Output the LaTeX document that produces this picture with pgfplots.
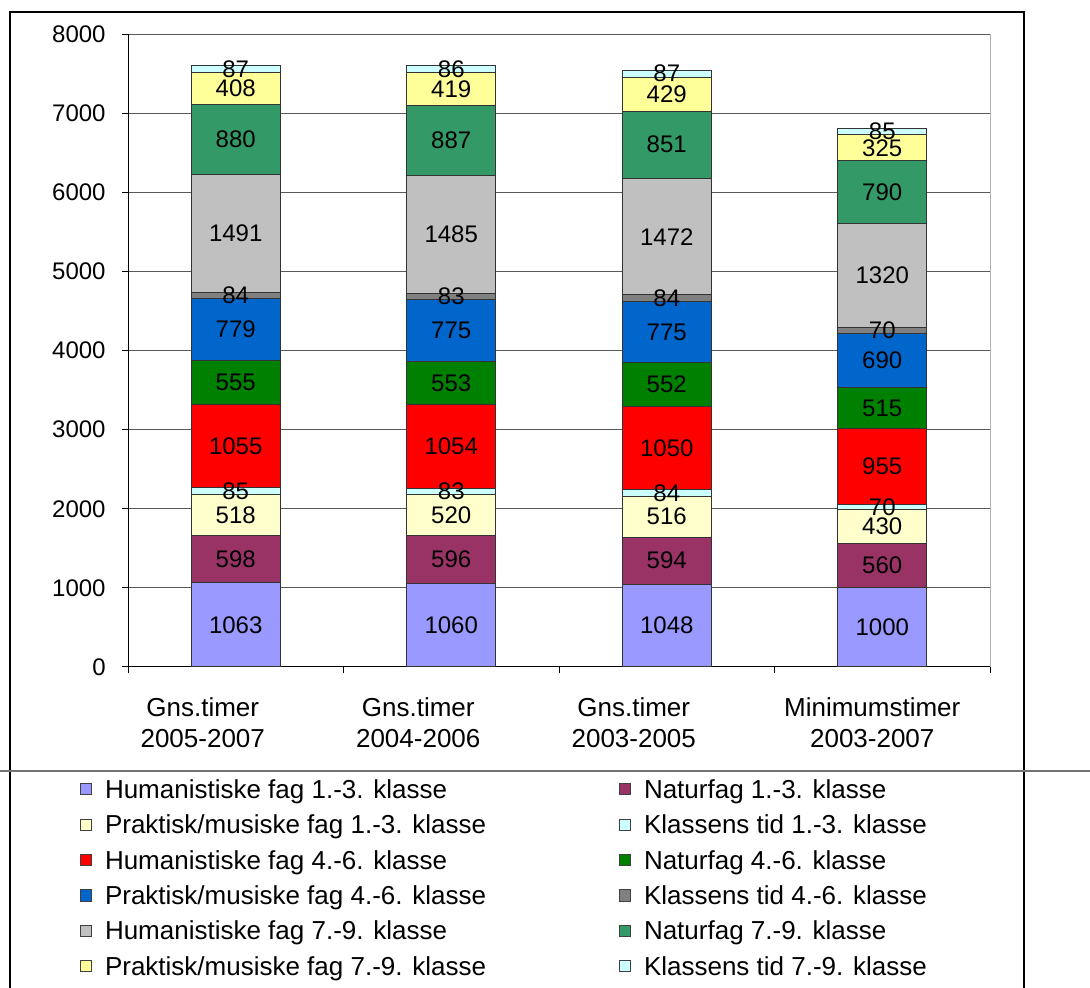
\documentclass[border=0pt]{standalone}
\usepackage{pgfplots}
\pgfplotsset{compat=1.18}
\usepackage{pgfplotstable}
\usepackage{fontspec}
\setmainfont{Liberation Sans}

\definecolor{c1}{HTML}{9999FF}
\definecolor{c2}{HTML}{993366}
\definecolor{c3}{HTML}{FFFFCC}
\definecolor{c4}{HTML}{CCFFFF}
\definecolor{c5}{HTML}{FF0000}
\definecolor{c6}{HTML}{008000}
\definecolor{c7}{HTML}{0066CC}
\definecolor{c8}{HTML}{808080}
\definecolor{c9}{HTML}{C0C0C0}
\definecolor{c10}{HTML}{339966}
\definecolor{c11}{HTML}{FFFF99}
\definecolor{c12}{HTML}{CCFFFF}

\pgfplotstableread{
x a b c d e f g h i j k l
0 1063 598 518 85 1055 555 779 84 1491 880 408 87
1 1060 596 520 83 1054 553 775 83 1485 887 419 86
2 1048 594 516 84 1050 552 775 84 1472 851 429 87
3 1000 560 430 70 955 515 690 70 1320 790 325 85
}\datatable

\pgfplotsset{
  seg/.style={
    fill=#1, draw=black!80, line width=0.5pt,
    point meta=explicit symbolic,
    nodes near coords={\pgfplotspointmeta},
    every node near coord/.append style={anchor=center,
      font=\fontsize{12}{14}\selectfont, text=black, inner sep=0pt},
  }
}
\newcommand{\la}[1]{\makebox[263.5pt][l]{\hspace*{6.5pt}#1}}
\newcommand{\lb}[1]{\makebox[200pt][l]{\hspace*{6.5pt}#1}}

\begin{document}
\begin{tikzpicture}
\useasboundingbox (0,0) rectangle (545pt,494pt);
\fill[white] (0,0) rectangle (545pt,494pt);
\begin{axis}[
  at={(64pt,160.5pt)}, anchor=south west,
  scale only axis, width=431pt, height=316.5pt,
  ybar stacked, bar width=44.5pt,
  xmin=-0.5, xmax=3.5, ymin=0, ymax=8000,
  ytick={0,1000,...,8000},
  xtick={-0.5,0.5,1.5,2.5,3.5}, xticklabels={,,,,,},
  extra x ticks={0,1,2,3},
  extra x tick labels={{Gns.timer\rule{33pt}{0pt}\\2005-2007\rule{33pt}{0pt}},
                       {Gns.timer\rule{33pt}{0pt}\\2004-2006\rule{33pt}{0pt}},
                       {Gns.timer\rule{33pt}{0pt}\\2003-2005\rule{33pt}{0pt}},
                       {Minimumstimer\rule{10pt}{0pt}\\2003-2007\rule{10pt}{0pt}}},
  extra x tick style={major tick length=0pt,
     xticklabel style={align=center, anchor=north, inner sep=0pt, yshift=-15pt,
       font=\fontsize{13}{15.75}\selectfont}},
  axis x line*=bottom, axis y line*=left,
  axis line style={black, line width=0.5pt, -},
  tick align=outside, major tick length=3pt,
  tick style={black, line width=0.5pt},
  ymajorgrids, grid style={black!65, line width=0.5pt},
  /pgf/number format/assume math mode=true,
  /pgf/number format/1000 sep={},
  yticklabel style={font=\fontsize{12}{14}\selectfont, anchor=east, inner sep=0pt, xshift=-8pt},
  legend columns=2,
  legend style={at={(axis description cs:-0.055684,-0.17583)}, anchor=north west,
    draw=none, fill=none, inner sep=0pt, outer sep=0pt,
    /tikz/column sep=0pt, /tikz/row sep=6.7pt,
    cells={anchor=west},
    nodes={inner sep=0pt, text height=10pt, text depth=1pt, font=\fontsize{13}{15}\selectfont}},
  legend image code/.code={\draw[#1, draw=black!75, line width=0.5pt] (0pt,-2.75pt) rectangle (5.5pt,2.75pt);},
]
\addplot[seg=c1] table[x=x, y=a, meta=a] {\datatable};
\addplot[seg=c2] table[x=x, y=b, meta=b] {\datatable};
\addplot[seg=c3] table[x=x, y=c, meta=c] {\datatable};
\addplot[seg=c4] table[x=x, y=d, meta=d] {\datatable};
\addplot[seg=c5] table[x=x, y=e, meta=e] {\datatable};
\addplot[seg=c6] table[x=x, y=f, meta=f] {\datatable};
\addplot[seg=c7] table[x=x, y=g, meta=g] {\datatable};
\addplot[seg=c8] table[x=x, y=h, meta=h] {\datatable};
\addplot[seg=c9] table[x=x, y=i, meta=i] {\datatable};
\addplot[seg=c10] table[x=x, y=j, meta=j] {\datatable};
\addplot[seg=c11] table[x=x, y=k, meta=k] {\datatable};
\addplot[seg=c12] table[x=x, y=l, meta=l] {\datatable};
\legend{\la{Humanistiske fag 1.-3. klasse}, \lb{Naturfag 1.-3. klasse},
        \la{Praktisk/musiske fag 1.-3. klasse}, \lb{Klassens tid 1.-3. klasse},
        \la{Humanistiske fag 4.-6. klasse}, \lb{Naturfag 4.-6. klasse},
        \la{Praktisk/musiske fag 4.-6. klasse}, \lb{Klassens tid 4.-6. klasse},
        \la{Humanistiske fag 7.-9. klasse}, \lb{Naturfag 7.-9. klasse},
        \la{Praktisk/musiske fag 7.-9. klasse}, \lb{Klassens tid 7.-9. klasse}}
\end{axis}
\draw[black!30, line width=0.5pt] (495pt,160.5pt) -- (495pt,477pt);
\draw[black, line width=0.6pt] (5pt,0) -- (5pt,488pt) -- (512pt,488pt) -- (512pt,0);
\draw[black!55, line width=0.6pt] (0,108.5pt) -- (545pt,108.5pt);
\end{tikzpicture}
\end{document}
